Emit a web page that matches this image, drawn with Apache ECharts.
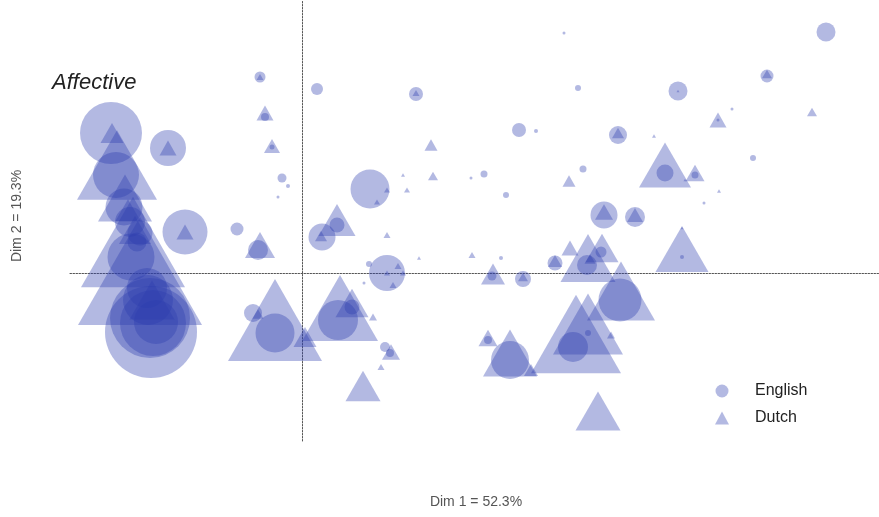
<!DOCTYPE html>
<html>
<head>
<meta charset="utf-8">
<script src="https://cdn.jsdelivr.net/npm/echarts@6/dist/echarts.min.js"></script>
<style>
  html, body { margin: 0; padding: 0; background: #fff; }
  #chart { width: 879px; height: 517px; }
</style>
</head>
<body>
<div id="chart"></div>
<script>
// Correspondence-analysis map: Dim 1 / Dim 2 scores with marker weight per term.

// English terms (circles)
const englishX = [-1.91, -1.34, -1.86, -1.78, -1.65, -1.71, -1.54, -1.52, -1.49, -1.51, -1.46, -1.17, -1.55,
  -0.42, -0.37, -0.30, -0.20, -0.14, -0.65, -0.44, -0.49, -0.27, 0.15, 1.14, 0.68, 0.35, 0.20, 0.85, 0.67,
  0.62, 0.36, 0.50, 0.83, 0.88, 2.62, 2.76, 2.17, 2.34, 1.69, 1.82, 2.04, 2.81, 5.24, 4.65, 3.76, 4.30, 3.16,
  4.51, 3.63, 3.93, 4.02, 3.02, 3.33, 3.80, 2.85, 2.99, 2.53, 2.21, 1.90, 1.99, 3.18, 2.86, 2.71, 1.86, 2.08,
  4.16, -0.24, -1.72, -1.62];
const englishY = [1.40, 1.25, 0.98, 0.66, 0.31, 0.16, -0.27, -0.45, -0.50, -0.59, -0.49, 0.41, -0.15,
  1.96, 1.56, 1.26, 0.95, 0.87, 0.44, 0.23, -0.40, -0.60, 1.84, 1.79, 0.84, 0.48, 0.36, 0.00, 0.09,
  -0.10, -0.47, -0.34, -0.74, -0.80, 2.40, 1.85, 1.43, 1.42, 0.95, 0.99, 0.78, 1.04, 2.41, 1.97, 1.82, 1.64, 1.38,
  1.15, 1.00, 0.98, 0.70, 0.58, 0.56, 0.16, 0.08, 0.21, 0.10, -0.06, -0.03, 0.15, -0.27, -0.60, -0.74, -0.67, -0.87,
  1.53, 0.76, 0.51, 0.40];
const englishWeight = [6.2, 3.6, 4.6, 3.7, 1.9, 4.7, 5.0, 8.0, 6.6, 9.2, 4.4, 4.5, 4.0,
  1.1, 0.8, 0.5, 0.9, 0.4, 1.3, 2.0, 1.8, 3.9, 1.2, 1.4, 3.9, 1.5, 2.7, 3.6, 0.6,
  0.3, 4.0, 1.5, 1.0, 0.8, 0.3, 0.6, 1.4, 0.4, 0.3, 0.7, 0.6, 0.7, 1.9, 1.3, 1.9, 0.3, 1.8,
  0.6, 1.7, 0.7, 0.3, 2.7, 2.0, 0.4, 2.0, 1.1, 1.5, 1.6, 0.9, 0.4, 4.3, 0.6, 3.0, 0.8, 3.8,
  0.3, 0.3, 3.0, 2.5];

// Dutch terms (triangles)
const dutchX = [-1.90, -1.34, -1.85, -1.77, -1.69, -1.62, -1.17, -1.74, -1.50,
  -0.42, -0.37, -0.30, -0.42, -0.44, -0.27, 0.03, 1.14, 1.29, 1.31, 1.01, 1.05, 0.75, 0.85,
  0.35, 0.19, 0.85, 0.85, 0.96, 1.01, 0.91, 0.38, 0.50, 0.71, 0.89, 0.79, 0.61,
  2.67, 1.17, 1.70, 1.91, 2.21, 2.53, 2.68, 2.86, 3.00, 2.88, 3.19, 2.74, 2.86, 3.09,
  1.86, 2.08, 2.29, 2.96, 3.80, 3.63, 3.93, 3.83, 4.17, 4.65, 4.16, 5.10, 3.16, 3.52,
  3.02, 3.33, 3.80, 3.76, -1.67];
const dutchY = [1.40, 1.25, 1.08, 0.75, 0.31, 0.02, 0.41, 0.63, -0.27,
  1.96, 1.60, 1.27, 0.28, -0.41, -0.47, -0.64, 1.80, 1.28, 0.97, 0.98, 0.83, 0.71, 0.83,
  0.53, 0.37, 0.38, 0.00, 0.07, 0.00, -0.12, -0.35, -0.30, -0.44, -0.79, -0.94, -1.13,
  0.92, 0.15, 0.18, -0.01, -0.04, 0.12, 0.25, 0.15, 0.25, 0.14, -0.18, -0.61, -0.51, -0.62,
  -0.65, -0.80, -0.97, -1.38, 0.24, 1.08, 1.00, 0.93, 0.82, 1.99, 1.53, 1.61, 1.40, 1.37,
  0.61, 0.58, 0.45, 1.82, 0.43];
const dutchWeight = [2.3, 1.7, 8.0, 5.4, 10.4, 12.4, 1.7, 2.5, 4.5,
  0.7, 1.7, 1.6, 3.0, 1.1, 9.4, 2.3, 0.7, 1.3, 1.0, 0.4, 0.6, 0.6, 0.6,
  3.7, 1.2, 0.7, 0.6, 0.7, 0.6, 0.7, 7.6, 3.3, 0.8, 1.8, 0.7, 3.5,
  1.3, 0.4, 0.7, 2.4, 1.0, 1.4, 1.7, 5.5, 3.3, 1.1, 6.8, 9.0, 7.0, 0.8,
  1.9, 5.4, 1.4, 4.5, 5.3, 5.2, 1.9, 0.3, 0.4, 1.0, 1.7, 1.0, 1.2, 0.4,
  1.8, 1.6, 0.3, 0.3, 3.2];

const seriesNames = ['English', 'Dutch'];
const axisTitles = ['Dim 1 = 52.3%', 'Dim 2 = 19.3%'];
const panelTitle = 'Affective';

const zip = (xs, ys, ws) => xs.map((x, i) => [x, ys[i], ws[i]]);

const markColor = 'rgba(45, 60, 175, 0.45)';
const sizeScale = 10;
const guideLine = { show: true, onZero: true, lineStyle: { color: '#555', width: 1, type: [1.5, 1.5] } };

const chart = echarts.init(document.getElementById('chart'), null, { renderer: 'canvas' });
chart.setOption({
  animation: false,
  backgroundColor: '#ffffff',
  grid: { left: 70, right: 0, top: 0, bottom: 76, containLabel: false },
  xAxis: {
    type: 'value', min: -2.32, max: 5.77,
    axisLine: guideLine, axisTick: { show: false }, axisLabel: { show: false }, splitLine: { show: false }
  },
  yAxis: {
    type: 'value', min: -1.68, max: 2.73,
    axisLine: guideLine, axisTick: { show: false }, axisLabel: { show: false }, splitLine: { show: false }
  },
  legend: {
    orient: 'vertical',
    left: 710, top: 378,
    itemWidth: 14, itemHeight: 13, itemGap: 11,
    textStyle: { fontFamily: 'Liberation Sans, Arial, sans-serif', fontSize: 16, color: '#222',
      padding: [0, 0, 0, 21] },
    data: [
      { name: seriesNames[0], icon: 'circle' },
      { name: seriesNames[1], icon: 'triangle' }
    ]
  },
  graphic: [
    {
      type: 'text', left: 52, top: 72,
      style: { text: panelTitle, font: 'italic 22px "Liberation Sans", Arial, sans-serif', fill: '#222' }
    },
    {
      type: 'text', x: 476, y: 502,
      style: { text: axisTitles[0], font: '14px "Liberation Sans", Arial, sans-serif', fill: '#555',
        align: 'center', verticalAlign: 'middle' }
    },
    {
      type: 'text', x: 17, y: 216, rotation: Math.PI / 2,
      style: { text: axisTitles[1], font: '14px "Liberation Sans", Arial, sans-serif', fill: '#555',
        align: 'center', verticalAlign: 'middle' }
    }
  ],
  series: [
    {
      name: seriesNames[0], type: 'scatter', symbol: 'circle', clip: false, silent: true,
      symbolSize: (v) => v[2] * sizeScale,
      itemStyle: { color: markColor },
      data: zip(englishX, englishY, englishWeight)
    },
    {
      name: seriesNames[1], type: 'scatter', symbol: 'triangle', clip: false, silent: true,
      symbolSize: (v) => [v[2] * sizeScale, v[2] * sizeScale * 0.87],
      itemStyle: { color: markColor },
      data: zip(dutchX, dutchY, dutchWeight)
    }
  ]
});
</script>
</body>
</html>
